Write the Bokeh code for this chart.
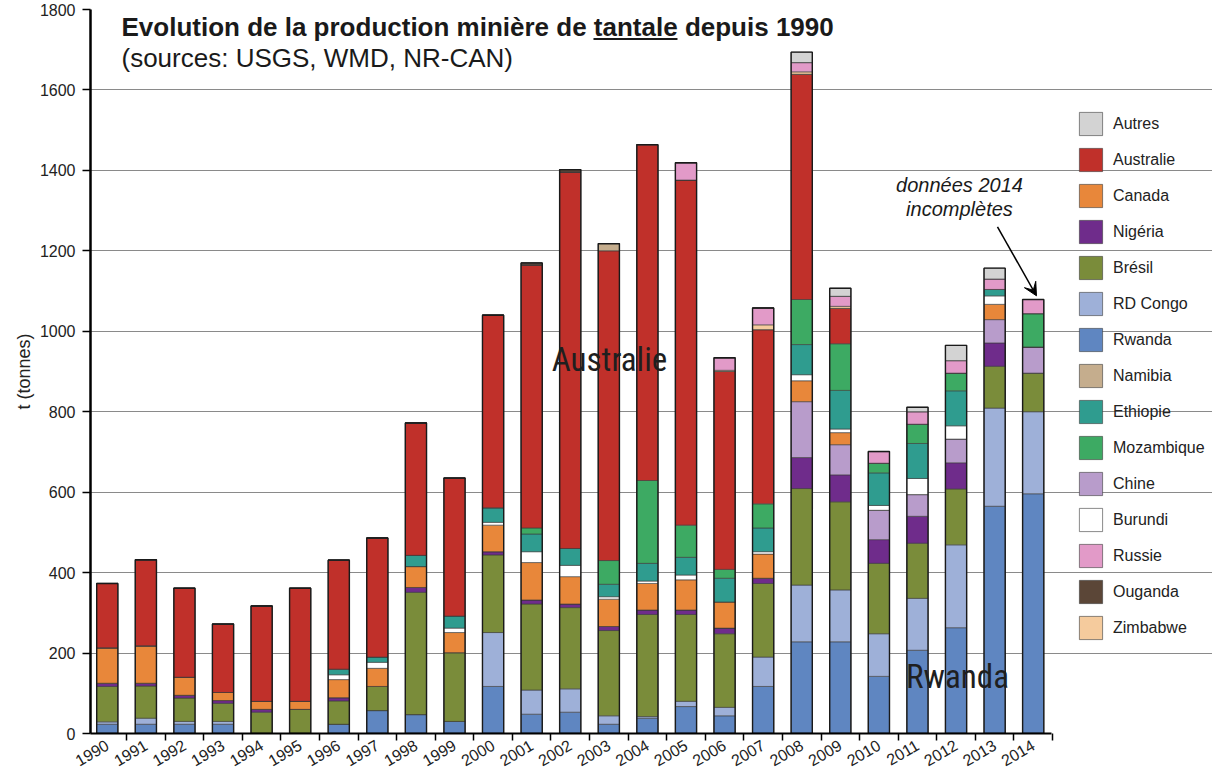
from bokeh.plotting import figure
from bokeh.models import (ColumnDataSource, Legend, LegendItem, Label, Arrow,
                          VeeHead, FixedTicker)
from bokeh.embed import file_html
from bokeh.resources import INLINE

# ---------------- data (tonnes) ----------------
years = list(range(1990, 2015))
year_labels = [str(y) for y in years]

rwanda     = [23, 23, 23, 23, 0, 0, 23, 57, 47, 30, 117, 48, 53, 23, 38, 67, 44, 117, 228, 228, 142, 207, 263, 565, 596]
rd_congo   = [6, 15, 7, 7, 0, 0, 0, 0, 0, 0, 134, 60, 58, 21, 4, 13, 21, 73, 141, 129, 106, 129, 206, 244, 204]
bresil     = [88, 80, 58, 45, 53, 60, 58, 60, 304, 171, 193, 214, 202, 212, 254, 216, 183, 183, 240, 219, 175, 137, 139, 104, 96]
nigeria    = [8, 7, 7, 7, 7, 0, 8, 0, 12, 0, 8, 10, 9, 10, 11, 11, 14, 13, 77, 67, 59, 67, 65, 58, 0]
chine      = [0, 0, 0, 0, 0, 0, 0, 0, 0, 0, 0, 0, 0, 0, 0, 0, 0, 0, 139, 75, 73, 54, 59, 58, 65]
canada     = [88, 93, 45, 20, 20, 20, 45, 45, 52, 50, 66, 93, 68, 68, 66, 75, 65, 60, 52, 30, 0, 0, 0, 38, 0]
burundi    = [0, 0, 0, 0, 0, 0, 12, 15, 0, 11, 7, 27, 28, 6, 6, 12, 0, 6, 15, 9, 12, 40, 33, 21, 0]
ethiopie   = [0, 0, 0, 0, 0, 0, 14, 13, 28, 30, 36, 44, 42, 31, 44, 44, 59, 59, 75, 96, 81, 87, 87, 16, 0]
mozambique = [0, 0, 0, 0, 0, 0, 0, 0, 0, 0, 0, 15, 0, 59, 206, 80, 22, 60, 112, 116, 24, 48, 44, 0, 83]
australie  = [160, 214, 221, 170, 237, 281, 271, 296, 329, 343, 479, 654, 936, 770, 835, 858, 492, 433, 560, 88, 0, 0, 0, 0, 0]
namibia    = [0, 0, 0, 0, 0, 0, 0, 0, 0, 0, 0, 0, 0, 18, 0, 0, 0, 0, 0, 0, 0, 0, 0, 0, 0]
zimbabwe   = [0, 0, 0, 0, 0, 0, 0, 0, 0, 0, 0, 0, 0, 0, 0, 0, 3, 12, 6, 5, 0, 0, 0, 0, 0]
russie     = [0, 0, 0, 0, 0, 0, 0, 0, 0, 0, 0, 0, 0, 0, 0, 43, 31, 42, 23, 25, 29, 31, 31, 26, 35]
ouganda    = [0, 0, 0, 0, 0, 0, 0, 0, 0, 0, 0, 5, 6, 0, 0, 0, 0, 0, 0, 0, 0, 0, 0, 0, 0]
autres     = [0, 0, 0, 0, 0, 0, 0, 0, 0, 0, 0, 0, 0, 0, 0, 0, 0, 0, 26, 20, 0, 11, 38, 27, 0]

# stacking order (bottom -> top)
stack_names = ["Rwanda", "RD Congo", "Brésil", "Nigéria", "Chine", "Canada", "Burundi",
               "Ethiopie", "Mozambique", "Australie", "Namibia", "Zimbabwe", "Russie",
               "Ouganda", "Autres"]
stack_values = [rwanda, rd_congo, bresil, nigeria, chine, canada, burundi, ethiopie,
                mozambique, australie, namibia, zimbabwe, russie, ouganda, autres]
stack_colors = ["#5f86c1", "#9eb0d8", "#7a8c3a", "#6f2c8b", "#b89ccb", "#e8873a", "#ffffff",
                "#2f9c8f", "#3daa63", "#c0302a", "#c5ad8d", "#f5cb9d", "#e29ac8",
                "#5b4637", "#d3d3d3"]
legend_order = ["Autres", "Australie", "Canada", "Nigéria", "Brésil", "RD Congo", "Rwanda",
                "Namibia", "Ethiopie", "Mozambique", "Chine", "Burundi", "Russie",
                "Ouganda", "Zimbabwe"]

# ---------------- layout constants ----------------
FONT = "Liberation Sans"
NARROW = "Roboto Condensed"
PX_PER_YEAR = 38.58
X0 = 1989.565
FRAME_W = 1122
FRAME_H = 724
BAR_W = 0.55
X_AXIS_END = 2014.47


def xp(px):
    """reference pixel x -> year coordinate"""
    return 1990 + (px - 107.8) / PX_PER_YEAR


def yp(py):
    """reference pixel y -> tonnes"""
    return (734 - py) / 0.4025


data = {"year": years}
for n, v in zip(stack_names, stack_values):
    data[n] = v
source = ColumnDataSource(data)
totals = [sum(col[i] for col in stack_values) for i in range(len(years))]

p = figure(frame_width=FRAME_W, frame_height=FRAME_H,
           x_range=(X0, X0 + FRAME_W / PX_PER_YEAR), y_range=(0, 1800),
           output_backend="svg", toolbar_location=None,
           min_border_left=90, min_border_right=0, min_border_top=9, min_border_bottom=34)
p.background_fill_color = "white"
p.border_fill_color = "white"
p.outline_line_color = None

renderers = p.vbar_stack(stack_names, x="year", width=BAR_W, source=source,
                         fill_color=stack_colors, line_color="#3a3a3a", line_width=0.6)
# outer outline of each bar
p.vbar(x=years, top=totals, width=BAR_W, fill_color=None, line_color="#1a1a1a", line_width=1.4)

# ---------------- axes ----------------
p.xaxis.ticker = FixedTicker(ticks=years, minor_ticks=[y + 0.5 for y in range(1989, 2015)])
p.xaxis.major_label_overrides = {y: s for y, s in zip(years, year_labels)}
p.xaxis.bounds = (X0, X_AXIS_END)
p.xaxis.axis_line_width = 2
p.xaxis.axis_line_color = "black"
p.xaxis.major_tick_out = 0
p.xaxis.major_tick_in = 0
p.xaxis.minor_tick_out = 7
p.xaxis.minor_tick_in = 0
p.xaxis.minor_tick_line_color = "black"
p.xaxis.minor_tick_line_width = 1.5
p.xaxis.major_label_orientation = 0.53
p.xaxis.major_label_standoff = 3
p.xaxis.major_label_text_font = FONT
p.xaxis.major_label_text_font_size = "16px"
p.xaxis.major_label_text_color = "#222222"

p.yaxis.ticker = FixedTicker(ticks=list(range(0, 1801, 200)))
p.yaxis.axis_line_width = 2.5
p.yaxis.axis_line_color = "black"
p.yaxis.major_tick_out = 8
p.yaxis.major_tick_in = 0
p.yaxis.major_tick_line_width = 1.5
p.yaxis.minor_tick_out = 0
p.yaxis.minor_tick_in = 0
p.yaxis.major_label_standoff = 7
p.yaxis.major_label_text_font = FONT
p.yaxis.major_label_text_font_size = "16px"
p.yaxis.major_label_text_color = "#222222"
p.yaxis.axis_label = "t (tonnes)"
p.yaxis.axis_label_text_font = FONT
p.yaxis.axis_label_text_font_style = "normal"
p.yaxis.axis_label_text_font_size = "18px"
p.yaxis.axis_label_text_color = "#222222"
p.yaxis.axis_label_standoff = 3

p.xgrid.visible = False
p.ygrid.ticker = FixedTicker(ticks=list(range(200, 1601, 200)))
p.ygrid.grid_line_color = "#8a8a8a"
p.ygrid.grid_line_width = 1
p.ygrid.bounds = (X0, X_AXIS_END)

# ---------------- legend ----------------
by_name = dict(zip(stack_names, renderers))
items = [LegendItem(label=n, renderers=[by_name[n]]) for n in legend_order]
legend = Legend(items=items, location=(986, 91), glyph_width=29, glyph_height=29,
                spacing=7, padding=0, margin=0, label_standoff=8,
                label_text_font=FONT, label_text_font_size="16px",
                label_text_color="#222222", border_line_color=None,
                background_fill_alpha=0)
p.add_layout(legend)

# ---------------- texts ----------------
p.add_layout(Label(x=xp(122), y=yp(27), text="Evolution de la production minière de tantale depuis 1990",
                   text_font=FONT, text_font_style="bold", text_font_size="26px",
                   text_color="#1a1a1a", text_baseline="middle", text_align="left"))
p.add_layout(Label(x=xp(122), y=yp(58), text="(sources: USGS, WMD, NR-CAN)",
                   text_font=FONT, text_font_size="26px",
                   text_color="#1a1a1a", text_baseline="middle", text_align="left"))
# underline of "tantale"
p.segment(x0=[xp(594)], y0=[yp(39)], x1=[xp(678)], y1=[yp(39)], line_color="#1a1a1a", line_width=2)

p.add_layout(Label(x=xp(610), y=yp(360), text="Australie", text_font=NARROW,
                   text_font_size="33px", text_color="#1f1f1f",
                   text_align="center", text_baseline="middle"))
p.add_layout(Label(x=xp(958), y=yp(677), text="Rwanda", text_font=NARROW,
                   text_font_size="33px", text_color="#1f1f1f",
                   text_align="center", text_baseline="middle"))
p.add_layout(Label(x=xp(960), y=yp(185), text="données 2014", text_font=FONT,
                   text_font_style="italic", text_font_size="20px", text_color="#1a1a1a",
                   text_align="center", text_baseline="middle"))
p.add_layout(Label(x=xp(960), y=yp(209), text="incomplètes", text_font=FONT,
                   text_font_style="italic", text_font_size="20px", text_color="#1a1a1a",
                   text_align="center", text_baseline="middle"))
p.add_layout(Arrow(end=VeeHead(size=13, fill_color="black", line_color="black"),
                   x_start=xp(998), y_start=yp(227), x_end=xp(1037), y_end=yp(296),
                   line_color="black", line_width=1.5))

open("out.html", "w").write(file_html(p, INLINE))
